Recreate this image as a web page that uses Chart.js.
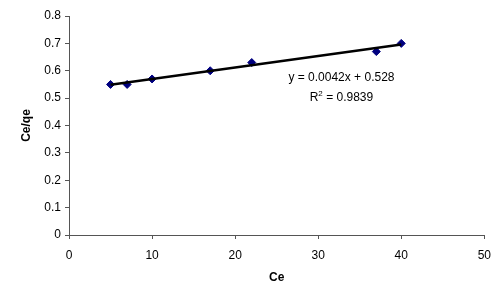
<!DOCTYPE html>
<html>
<head>
<meta charset="utf-8">
<script src="https://cdn.jsdelivr.net/npm/chart.js@4/dist/chart.umd.min.js"></script>
<style>
  html,body{margin:0;padding:0;background:#fff;}
  #wrap{width:500px;height:292px;}
</style>
</head>
<body>
<div id="wrap"><canvas id="isoChart" width="500" height="292"></canvas></div>
<script>
// measured points (Ce, Ce/qe)
const ceValues=[5,7,10,17,22,37,40]
const ceQeValues=[0.55,0.55,0.57,0.60,0.63,0.67,0.70]
// linear trend end points, y = 0.0042x + 0.528
const trendX=[5,40]
const trendY=[0.549,0.696]
const xTicks=[0,10,20,30,40,50]
const yTicks=[0,0.1,0.2,0.3,0.4,0.5,0.6,0.7,0.8]
const trendLabel=['y = 0.0042x + 0.528','0.9839']

const font="'Liberation Sans', Arial, sans-serif"

const trendText={
  id:'trendText',
  afterDraw(chart){
    const c=chart.ctx
    const xs=chart.scales.x, ys=chart.scales.y
    const cx=xs.getPixelForValue(32.8)
    const y1=ys.getPixelForValue(0.575)
    const y2=ys.getPixelForValue(0.502)
    c.save()
    c.fillStyle='#000'
    c.font='12px '+font
    c.textAlign='center'
    c.textBaseline='middle'
    c.fillText(trendLabel[0],cx,y1)
    // R² line
    const rest=' = '+trendLabel[1]
    const wR=c.measureText('R').width
    c.font='8px '+font
    const w2=c.measureText('2').width
    c.font='12px '+font
    const wRest=c.measureText(rest).width
    let x=cx-(wR+w2+wRest)/2
    c.textAlign='left'
    c.fillText('R',x,y2)
    c.font='8px '+font
    c.fillText('2',x+wR,y2-4)
    c.font='12px '+font
    c.fillText(rest,x+wR+w2,y2)
    c.restore()
  }
}

const ctx=document.getElementById('isoChart')
new Chart(ctx,{
  type:'scatter',
  data:{
    datasets:[{
      label:'trend',
      data:trendX.map((x,i)=>({x:x,y:trendY[i]})),
      showLine:true,
      borderColor:'#000',
      borderWidth:2.5,
      pointRadius:0,
      order:0
    },{
      label:'Ce/qe',
      data:ceValues.map((x,i)=>({x:x,y:ceQeValues[i]})),
      pointStyle:'rectRot',
      pointRadius:4,
      backgroundColor:'#000080',
      borderColor:'#000080',
      borderWidth:1,
      order:1
    }]
  },
  options:{
    responsive:false,
    animation:false,
    layout:{padding:{left:0,right:15,top:16,bottom:0}},
    plugins:{legend:{display:false},tooltip:{enabled:false}},
    scales:{
      x:{
        type:'linear',
        min:0,max:50,
        afterBuildTicks:s=>{s.ticks=xTicks.map(v=>({value:v}))},
        afterFit:s=>{s.height=57},
        grid:{drawOnChartArea:false,drawTicks:true,tickLength:4,color:'#555'},
        border:{display:true,color:'#555',width:1},
        ticks:{color:'#000',font:{family:font,size:12},padding:9,maxRotation:0},
        title:{display:true,text:'Ce',color:'#000',font:{family:font,size:12,weight:'bold'},padding:{top:0,bottom:7}}
      },
      y:{
        type:'linear',
        min:0,max:0.8,
        afterBuildTicks:s=>{s.ticks=yTicks.map(v=>({value:v}))},
        afterFit:s=>{s.width=69},
        grid:{drawOnChartArea:false,drawTicks:true,tickLength:4,color:'#555'},
        border:{display:true,color:'#555',width:1},
        ticks:{color:'#000',font:{family:font,size:12},padding:4,callback:v=>String(+v.toFixed(1))},
        title:{display:true,text:'Ce/qe',color:'#000',font:{family:font,size:12,weight:'bold'},padding:{top:19,bottom:0}}
      }
    }
  },
  plugins:[trendText]
})
</script>
</body>
</html>
